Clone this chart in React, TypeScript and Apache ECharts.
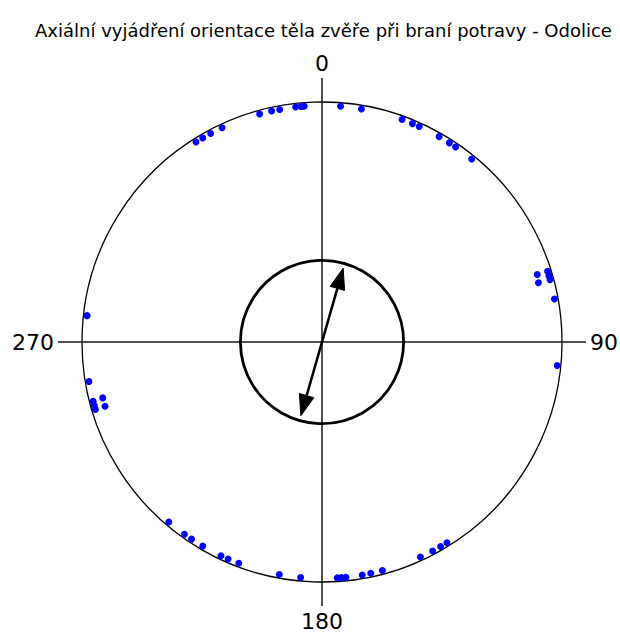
import React, { useEffect, useRef } from 'react';
import * as echarts from 'echarts';

const TITLE = 'Axiální vyjádření orientace těla zvěře při braní potravy - Odolice';

// Observation directions (degrees, clockwise from north) and their plotted radius (stacking)
const dotAngles = [
  4.5, 9.6, 19.8, 22.5, 24.3, 29.7, 32.6, 34.4, 39.3,
  72.6, 73.7, 74.7, 72.6, 74.7, 79.5, 95.7,
  148.1, 149.9, 152.1, 155.4, 165.2, 168.1, 170.2, 174.2, 175.3, 176.3,
  185.2, 190.4, 200.6, 203.4, 205.3, 210.3, 213.5, 215.6, 220.4,
  253.4, 254.4, 255.5, 253.5, 255.7, 260.4, 276.4,
  327.8, 329.7, 331.9, 335.0, 344.7, 347.7, 349.7, 353.6, 354.9, 355.7,
];
const dotRadii = [
  0.985, 0.985, 0.985, 0.985, 0.985, 0.985, 0.985, 0.985, 0.985,
  0.985, 0.985, 0.985, 0.94, 0.935, 0.985, 0.985,
  0.985, 0.985, 0.985, 0.985, 0.985, 0.985, 0.985, 0.985, 0.985, 0.985,
  0.985, 0.985, 0.985, 0.985, 0.985, 0.985, 0.985, 0.985, 0.985,
  0.985, 0.985, 0.985, 0.943, 0.943, 0.985, 0.985,
  0.985, 0.985, 0.985, 0.985, 0.985, 0.985, 0.985, 0.985, 0.985, 0.985,
];

const axisAngles = [0, 90, 180, 270];
const axisLabelTexts = ['0', '90', '180', '270'];
const AXIS_EXTENT = 1.1;

const MEAN_ANGLE = 16;
const MEAN_LENGTH = 0.32;
const INNER_RADIUS = 0.34;

const FONT = '"DejaVu Sans", "Liberation Sans", Arial, sans-serif';

export default function App() {
  const ref = useRef<HTMLDivElement>(null);

  useEffect(() => {
    const chart = echarts.init(ref.current!, null, { renderer: 'svg' });

    const crossRender = (params: any, api: any) => {
      const r = api.value(0);
      const a = api.value(1);
      const c = api.coord([0, 0]);
      const p = api.coord([r, a]);
      const dx = p[0] - c[0];
      const dy = p[1] - c[1];
      const len = Math.sqrt(dx * dx + dy * dy) || 1;
      const ux = dx / len;
      const uy = dy / len;
      const gap = 4;
      return {
        type: 'group',
        children: [
          {
            type: 'line',
            shape: { x1: c[0], y1: c[1], x2: p[0], y2: p[1] },
            style: { stroke: '#1a1a1a', lineWidth: 1.5 },
          },
          {
            type: 'text',
            x: p[0] + ux * gap,
            y: p[1] + uy * gap,
            style: {
              text: axisLabelTexts[params.dataIndex],
              fontSize: 22,
              fontFamily: FONT,
              fill: '#000',
              align: ux > 0.5 ? 'left' : ux < -0.5 ? 'right' : 'center',
              verticalAlign: uy < -0.5 ? 'bottom' : uy > 0.5 ? 'top' : 'middle',
            },
          },
        ],
      };
    };

    const circleRender = (_params: any, api: any) => {
      const c = api.coord([0, 0]);
      const p = api.coord([api.value(0), 0]);
      const rad = Math.hypot(p[0] - c[0], p[1] - c[1]);
      return {
        type: 'circle',
        shape: { cx: c[0], cy: c[1], r: rad },
        style: { fill: 'none', stroke: '#000', lineWidth: 2.8 },
      };
    };

    const arrowRender = (_params: any, api: any) => {
      const r = api.value(0);
      const a = api.value(1);
      const t1 = api.coord([r, a]);
      const t2 = api.coord([r, (a + 180) % 360]);
      const dx = t1[0] - t2[0];
      const dy = t1[1] - t2[1];
      const len = Math.hypot(dx, dy) || 1;
      const ux = dx / len;
      const uy = dy / len;
      const px = -uy;
      const py = ux;
      const hl = 21;
      const hw = 7.5;
      const b1 = [t1[0] - ux * hl, t1[1] - uy * hl];
      const b2 = [t2[0] + ux * hl, t2[1] + uy * hl];
      return {
        type: 'group',
        children: [
          {
            type: 'line',
            shape: { x1: b2[0], y1: b2[1], x2: b1[0], y2: b1[1] },
            style: { stroke: '#000', lineWidth: 2.5 },
          },
          {
            type: 'polygon',
            shape: {
              points: [
                [t1[0], t1[1]],
                [b1[0] + px * hw, b1[1] + py * hw],
                [b1[0] - px * hw, b1[1] - py * hw],
              ],
            },
            style: { fill: '#000', stroke: '#000', lineWidth: 1 },
          },
          {
            type: 'polygon',
            shape: {
              points: [
                [t2[0], t2[1]],
                [b2[0] + px * hw, b2[1] + py * hw],
                [b2[0] - px * hw, b2[1] - py * hw],
              ],
            },
            style: { fill: '#000', stroke: '#000', lineWidth: 1 },
          },
        ],
      };
    };

    chart.setOption({
      animation: false,
      title: {
        text: TITLE,
        left: 30,
        top: 16,
        textStyle: { fontSize: 18, fontWeight: 'normal', color: '#000', fontFamily: FONT },
      },
      polar: { center: [322, 342], radius: 240 },
      angleAxis: {
        type: 'value',
        min: 0,
        max: 360,
        startAngle: 90,
        clockwise: true,
        axisLine: { lineStyle: { color: '#000', width: 1.3 } },
        axisTick: { show: false },
        axisLabel: { show: false },
        splitLine: { show: false },
      },
      radiusAxis: {
        type: 'value',
        min: 0,
        max: 1,
        axisLine: { show: false },
        axisTick: { show: false },
        axisLabel: { show: false },
        splitLine: { show: false },
      },
      series: [
        {
          type: 'custom',
          coordinateSystem: 'polar',
          clip: false,
          silent: true,
          z: 1,
          data: axisAngles.map((a) => [AXIS_EXTENT, a]),
          renderItem: crossRender,
        },
        {
          type: 'custom',
          coordinateSystem: 'polar',
          clip: false,
          silent: true,
          z: 2,
          data: [[INNER_RADIUS, 0]],
          renderItem: circleRender,
        },
        {
          type: 'custom',
          coordinateSystem: 'polar',
          clip: false,
          silent: true,
          z: 3,
          data: [[MEAN_LENGTH, MEAN_ANGLE]],
          renderItem: arrowRender,
        },
        {
          type: 'scatter',
          coordinateSystem: 'polar',
          z: 4,
          symbol: 'circle',
          symbolSize: 7,
          itemStyle: { color: '#0000ff', opacity: 1 },
          data: dotRadii.map((r, i) => [r, dotAngles[i]]),
        },
      ],
    });

    return () => chart.dispose();
  }, []);

  return (
    <div
      ref={ref}
      style={{ position: 'absolute', left: 0, top: 0, width: 620, height: 635 }}
    />
  );
}
